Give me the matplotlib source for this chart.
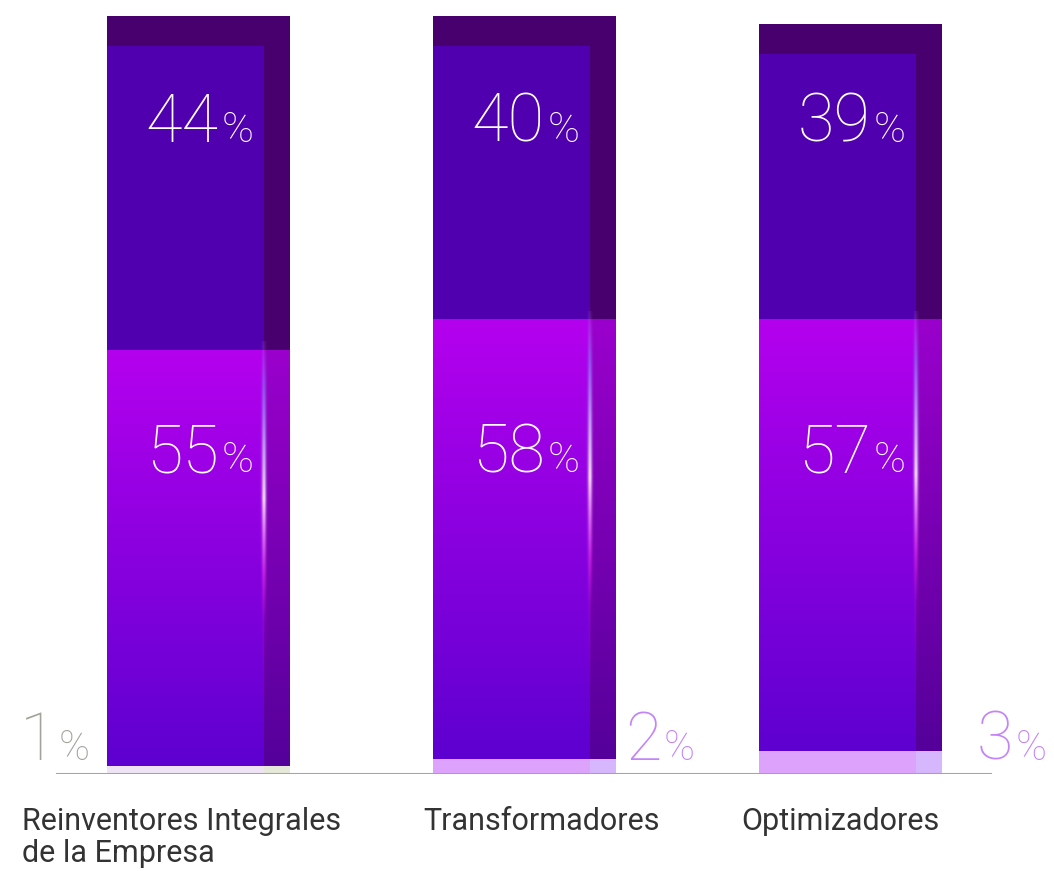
import numpy as np
import matplotlib
matplotlib.use("Agg")
import matplotlib.pyplot as plt
from matplotlib.colors import to_rgb

# Survey shares per company group (bottom / middle / top of each stack)
categories = ["Reinventores Integrales\nde la Empresa", "Transformadores", "Optimizadores"]
bottom_share = [1, 2, 3]
middle_share = [55, 58, 57]
top_share = [44, 40, 39]

FONT = "Roboto"
W, H = 1054, 871

fig = plt.figure(figsize=(W / 100, H / 100), dpi=100, facecolor="white")
# axes: y=0 sits on the base line, y=100 at the top of the tallest bar
ax = fig.add_axes([0, 97 / H, 1, 758 / H])
ax.set_axis_off()

unit_px = 326.0
x0_px = 198.5
xlim = (-x0_px / unit_px, (W - x0_px) / unit_px)
ylim = (0, 100)
px_y = 100 / 758.0  # data units per pixel vertically

bar_w = 0.56
side_w = 26 / unit_px        # darker right-hand face
lid_h = 30 * px_y            # darker top face
x = np.arange(len(categories))


def vgrad(x_left, x_right, y_bot, y_top, c_top, c_bot, z=2):
    t = np.linspace(0, 1, 64)[:, None]
    a, b = np.array(to_rgb(c_top)), np.array(to_rgb(c_bot))
    img = (a * (1 - t) + b * t)[:, None, :]
    ax.imshow(img, extent=(x_left, x_right, y_bot, y_top), aspect="auto",
              interpolation="bicubic", zorder=z, origin="upper")


def glow(xc, y_bot, y_top, z=4):
    n = 200
    t = np.linspace(0, 1, n)
    stops_t = [0.0, 0.12, 0.28, 0.42, 0.52, 0.62, 0.75, 1.0]
    stops = np.array([
        [0.75, 0.45, 1.00, 0.15],
        [0.55, 0.55, 1.00, 0.60],
        [0.80, 0.75, 1.00, 0.90],
        [1.00, 0.95, 1.00, 1.00],
        [0.95, 0.55, 1.00, 0.85],
        [0.90, 0.20, 0.95, 0.70],
        [0.80, 0.10, 0.90, 0.20],
        [0.70, 0.00, 0.90, 0.00],
    ])
    col = np.stack([np.interp(t, stops_t, stops[:, k]) for k in range(4)], axis=1)
    m = 9
    fall = np.exp(-((np.linspace(-1, 1, m)) ** 2) / 0.2)
    img = np.repeat(col[:, None, :], m, axis=1)
    img[:, :, 3] *= fall[None, :]
    hw = 5 / unit_px
    ax.imshow(img, extent=(xc - hw, xc + hw, y_bot, y_top), aspect="auto",
              interpolation="bicubic", zorder=z, origin="upper")


bottom_front = ["#efe4f6", "#dda3fc", "#dda3fc"]
bottom_side = ["#e6e8da", "#d6b6fc", "#d6b6fc"]
small_color = ["#a3a39b", "#c384f9", "#c384f9"]
small_dx = [-0.435, 0.42, 0.5]
label_dx = [-0.54, -0.31, -0.335]

for i, xc in enumerate(x):
    left, right = xc - bar_w / 2, xc + bar_w / 2
    edge = right - side_w
    b = bottom_share[i]
    m = b + middle_share[i]
    t = m + top_share[i]

    # bottom segment
    ax.bar(xc, b, width=bar_w, bottom=0, color=bottom_side[i], align="center", zorder=2)
    ax.bar((left + edge) / 2, b, width=edge - left, bottom=0, color=bottom_front[i], zorder=3)

    # middle segment with gradients
    vgrad(edge, right, b, m, "#9a00cc", "#55009a", z=2)
    vgrad(left, edge, b, m, "#b400ee", "#5e00d0", z=3)
    glow(edge, b + 0.12 * (m - b), m + 1)

    # top segment: dark box with inset front face
    ax.bar(xc, t - m, width=bar_w, bottom=m, color="#47006d", zorder=2)
    ax.bar((left + edge) / 2, t - m - lid_h, width=edge - left, bottom=m,
           color="#5000af", zorder=3)

    # value labels
    for val, yb, col in [(top_share[i], 83.4, "white"), (middle_share[i], 39.8, "white")]:
        ax.text(xc + 0.062, yb, str(val), color=col, fontsize=48, family=FONT,
                fontweight="light", ha="right", va="baseline", zorder=6)
        ax.annotate("%", (xc + 0.062, yb), xytext=(2, 0), textcoords="offset points",
                    color=col, fontsize=31, family=FONT, fontweight="light",
                    ha="left", va="baseline", zorder=6)

    sx = xc + small_dx[i]
    ax.text(sx, 1.85, str(b), color=small_color[i], fontsize=48, family=FONT,
            fontweight="light", ha="right", va="baseline", zorder=6)
    ax.annotate("%", (sx, 1.85), xytext=(1.5, 0), textcoords="offset points",
                color=small_color[i], fontsize=30, family=FONT, fontweight="light",
                ha="left", va="baseline", zorder=6)

    # category label under the base line
    ax.text(xc + label_dx[i], -4.4, categories[i], color="#333333", fontsize=22,
            family=FONT, fontweight="normal", ha="left", va="top",
            linespacing=1.12, zorder=6)

# base line
ax.axhline(0, xmin=57 / W, xmax=990 / W, color="#a5a59e", lw=2.2, zorder=5)

ax.set_xlim(*xlim)
ax.set_ylim(*ylim)

fig.savefig("out.png", dpi=100, facecolor="white")
